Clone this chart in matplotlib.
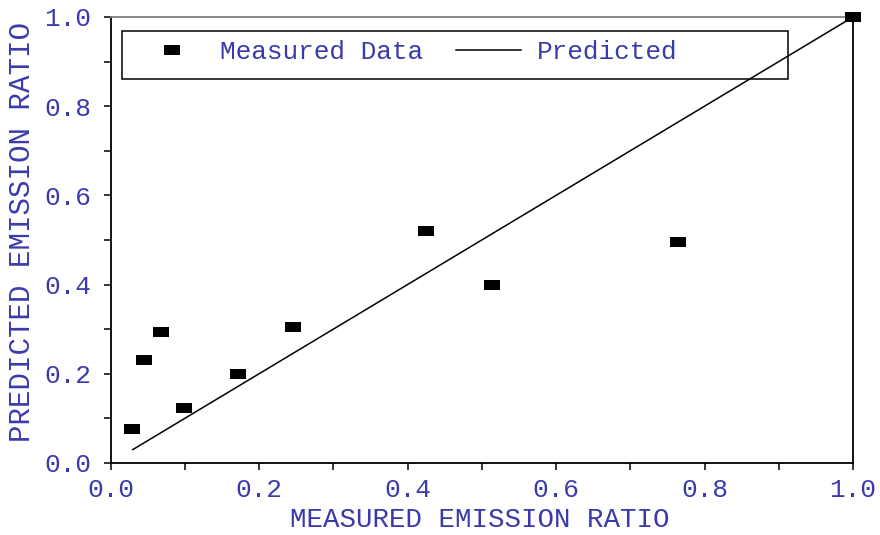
import matplotlib
matplotlib.use("Agg")
import matplotlib.pyplot as plt
from matplotlib.patches import Rectangle
from matplotlib.ticker import MultipleLocator

# Data
measured_x = [0.029, 0.0455, 0.068, 0.0994, 0.172, 0.246, 0.425, 0.514, 0.764, 1.0]
measured_y = [0.076, 0.232, 0.294, 0.1226, 0.1996, 0.304, 0.5195, 0.400, 0.495, 1.0]
pred_x = [0.03, 0.76, 1.0]
pred_y = [0.03, 0.76, 1.0]
x_ticks = [0.0, 0.2, 0.4, 0.6, 0.8, 1.0]
y_ticks = [0.0, 0.2, 0.4, 0.6, 0.8, 1.0]

TXT = '#3a3aac'
FONT = 'Liberation Mono'
plt.rcParams['font.family'] = [FONT, 'DejaVu Sans Mono']

W, H = 880, 535
fig = plt.figure(figsize=(W / 100, H / 100), dpi=100)
ax = fig.add_axes([110.5 / W, (H - 463) / H, 742.5 / W, 446 / H])

rect_marker = [(-1.5, -1), (1.5, -1), (1.5, 1), (-1.5, 1), (-1.5, -1)]

ax.plot(pred_x, pred_y, color='black', lw=1.1, label='Predicted', zorder=2)
ax.plot(measured_x, measured_y, linestyle='none', marker=rect_marker,
        markersize=11, markeredgewidth=0, color='black',
        label='Measured Data', zorder=3, clip_on=False)

ax.set_xlim(0, 1)
ax.set_ylim(0, 1)
ax.set_xticks(x_ticks)
ax.set_yticks(y_ticks)
ax.set_xticklabels([f'{v:.1f}' for v in x_ticks])
ax.set_yticklabels([f'{v:.1f}' for v in y_ticks])
ax.xaxis.set_minor_locator(MultipleLocator(0.1))
ax.yaxis.set_minor_locator(MultipleLocator(0.1))
ax.tick_params(which='both', direction='out', length=5, width=1.1, color='black',
               labelsize=18.8, labelcolor=TXT)
ax.tick_params(axis='y', which='major', pad=9)
ax.tick_params(axis='x', which='major', pad=6)

for s in ['left', 'bottom', 'right']:
    ax.spines[s].set_linewidth(1.3)
    ax.spines[s].set_color('black')
ax.spines['top'].set_linewidth(1.3)
ax.spines['top'].set_color('#808080')

ax.set_xlabel('MEASURED EMISSION RATIO', fontsize=19.8, color=TXT, va='center')
ax.xaxis.set_label_coords((480 - 110.5) / 742.5, (463 - 520) / 446)
ax.set_ylabel('PREDICTED EMISSION RATIO', fontsize=21, color=TXT, va='center')
ax.yaxis.set_label_coords((22 - 110.5) / 742.5, (463 - 232) / 446)

# Legend box
box = Rectangle(((122 - 110.5) / 742.5, (463 - 79) / 446),
                (788 - 122) / 742.5, (79 - 31) / 446,
                transform=ax.transAxes, fill=False, edgecolor='black', lw=1.1,
                clip_on=False, zorder=4)
ax.add_patch(box)

handles, labels = ax.get_legend_handles_labels()
order = [1, 0]
leg = ax.legend([handles[i] for i in order], [labels[i] for i in order],
                loc='center left', bbox_to_anchor=((139 - 110.5) / 742.5, (463 - 52) / 446),
                ncol=2, frameon=False, borderpad=0, borderaxespad=0,
                handlelength=2.5, handletextpad=0.6, columnspacing=1.25,
                fontsize=18.8, labelcolor=TXT, numpoints=1)

fig.savefig('out.png', dpi=100, facecolor='white')
